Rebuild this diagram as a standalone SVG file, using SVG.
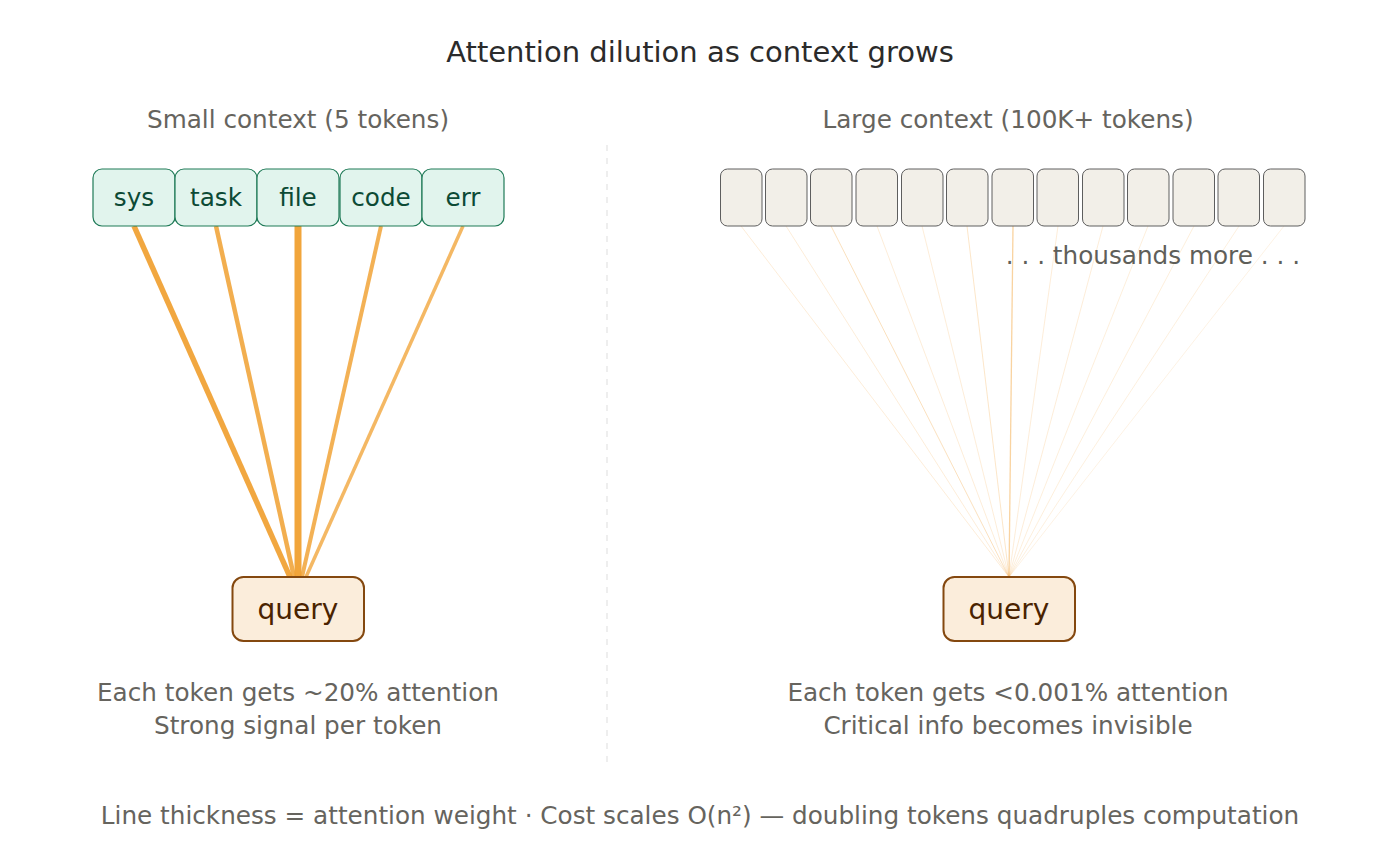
<svg xmlns="http://www.w3.org/2000/svg" width="1400" height="865" viewBox="0 0 1400 865">
<style>
text{font-family:"DejaVu Sans","Liberation Sans",sans-serif;}
.title{font-size:29px;fill:#2b2b2b;text-anchor:middle;}
.sub{font-size:24.7px;fill:#66645e;text-anchor:middle;}
.tok{fill:#e1f4ed;stroke:#1f7a57;stroke-width:1.2;}
.tokt{font-size:24.7px;fill:#0c4a35;text-anchor:middle;}
.gtok{fill:#f2efe8;stroke:#5e5e5e;stroke-width:1;}
.q{fill:#fbeddb;stroke:#84480f;stroke-width:2;}
.qt{font-size:28px;fill:#4a2300;text-anchor:middle;}
.hot{stroke:#f0a030;stroke-linecap:butt;fill:none;}
.thin{stroke:#f5b560;fill:none;}
</style>
<rect width="1400" height="865" fill="#ffffff"/>
<text class="title" x="700" y="62">Attention dilution as context grows</text>
<text class="sub" x="298" y="128">Small context (5 tokens)</text>
<text class="sub" x="1008" y="128">Large context (100K+ tokens)</text>
<line x1="607" y1="145" x2="607" y2="762" stroke="#dddddd" stroke-width="1" stroke-dasharray="6 7"/>
<g id="connectors">
<line class="hot" x1="134" y1="226" x2="290" y2="577" stroke-width="5.5" stroke-opacity="0.92"/>
<line class="hot" x1="216" y1="226" x2="294" y2="577" stroke-width="4.5" stroke-opacity="0.85"/>
<line class="hot" x1="298" y1="226" x2="298" y2="577" stroke-width="7" stroke-opacity="0.95"/>
<line class="hot" x1="381" y1="226" x2="302" y2="577" stroke-width="4" stroke-opacity="0.82"/>
<line class="hot" x1="463" y1="226" x2="306" y2="577" stroke-width="3.5" stroke-opacity="0.75"/>
<g class="thin">
<line x1="741" y1="226" x2="1009" y2="577" stroke-width="0.8" stroke-opacity="0.3"/>
<line x1="786" y1="226" x2="1009" y2="577" stroke-width="0.8" stroke-opacity="0.3"/>
<line x1="831" y1="226" x2="1009" y2="577" stroke-width="1" stroke-opacity="0.4"/>
<line x1="877" y1="226" x2="1009" y2="577" stroke-width="0.8" stroke-opacity="0.3"/>
<line x1="922" y1="226" x2="1009" y2="577" stroke-width="0.8" stroke-opacity="0.3"/>
<line x1="967" y1="226" x2="1009" y2="577" stroke-width="0.9" stroke-opacity="0.38"/>
<line x1="1013" y1="226" x2="1009" y2="577" stroke-width="1.3" stroke-opacity="0.6"/>
<line x1="1058" y1="226" x2="1009" y2="577" stroke-width="0.8" stroke-opacity="0.3"/>
<line x1="1103" y1="226" x2="1009" y2="577" stroke-width="0.8" stroke-opacity="0.3"/>
<line x1="1148" y1="226" x2="1009" y2="577" stroke-width="0.8" stroke-opacity="0.28"/>
<line x1="1194" y1="226" x2="1009" y2="577" stroke-width="0.8" stroke-opacity="0.28"/>
<line x1="1239" y1="226" x2="1009" y2="577" stroke-width="0.8" stroke-opacity="0.25"/>
<line x1="1284" y1="226" x2="1009" y2="577" stroke-width="0.8" stroke-opacity="0.22"/>
</g>
</g>
<g id="tok-sys"><rect class="tok" x="93" y="169" width="82" height="57" rx="9"/><text class="tokt" x="134" y="206">sys</text></g>
<g id="tok-task"><rect class="tok" x="175" y="169" width="82" height="57" rx="9"/><text class="tokt" x="216" y="206">task</text></g>
<g id="tok-file"><rect class="tok" x="257" y="169" width="82" height="57" rx="9"/><text class="tokt" x="298" y="206">file</text></g>
<g id="tok-code"><rect class="tok" x="340" y="169" width="82" height="57" rx="9"/><text class="tokt" x="381" y="206">code</text></g>
<g id="tok-err"><rect class="tok" x="422" y="169" width="82" height="57" rx="9"/><text class="tokt" x="463" y="206">err</text></g>
<g id="large-tokens">
<rect class="gtok" x="720.5" y="169" width="41.5" height="57" rx="7"/>
<rect class="gtok" x="765.5" y="169" width="41.5" height="57" rx="7"/>
<rect class="gtok" x="810.5" y="169" width="41.5" height="57" rx="7"/>
<rect class="gtok" x="856" y="169" width="41.5" height="57" rx="7"/>
<rect class="gtok" x="901.5" y="169" width="41.5" height="57" rx="7"/>
<rect class="gtok" x="946.5" y="169" width="41.5" height="57" rx="7"/>
<rect class="gtok" x="992" y="169" width="41.5" height="57" rx="7"/>
<rect class="gtok" x="1037" y="169" width="41.5" height="57" rx="7"/>
<rect class="gtok" x="1082.5" y="169" width="41.5" height="57" rx="7"/>
<rect class="gtok" x="1127.5" y="169" width="41.5" height="57" rx="7"/>
<rect class="gtok" x="1173" y="169" width="41.5" height="57" rx="7"/>
<rect class="gtok" x="1218" y="169" width="41.5" height="57" rx="7"/>
<rect class="gtok" x="1263.5" y="169" width="41.5" height="57" rx="7"/>
</g>
<text x="1300" y="264" font-size="24.7" fill="#5f5f5a" text-anchor="end">. . . thousands more . . .</text>
<g id="query-left"><rect class="q" x="232.5" y="577" width="131.5" height="64" rx="11"/><text class="qt" x="298" y="619">query</text></g>
<g id="query-right"><rect class="q" x="943.5" y="577" width="131.5" height="64" rx="11"/><text class="qt" x="1009" y="619">query</text></g>
<text class="sub" x="298" y="701">Each token gets ~20% attention</text>
<text class="sub" x="298" y="734">Strong signal per token</text>
<text class="sub" x="1008" y="701">Each token gets &lt;0.001% attention</text>
<text class="sub" x="1008" y="734">Critical info becomes invisible</text>
<text class="sub" x="700" y="824">Line thickness = attention weight · Cost scales O(n²) — doubling tokens quadruples computation</text>
</svg>
